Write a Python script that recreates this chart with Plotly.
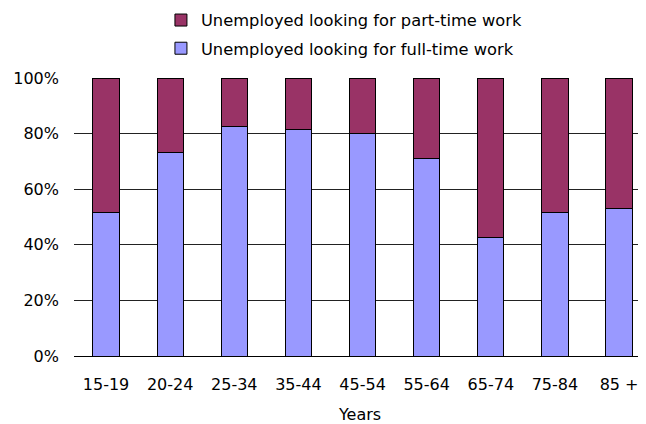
import plotly.graph_objects as go

categories = ["15-19", "20-24", "25-34", "35-44", "45-54", "55-64", "65-74", "75-84", "85 +"]
full_time = [0.517, 0.732, 0.826, 0.814, 0.802, 0.709, 0.426, 0.517, 0.529]
part_time = [1 - v for v in full_time]

font_family = "DejaVu Sans, Verdana, sans-serif"

fig = go.Figure()
fig.add_trace(go.Bar(
    x=categories, y=full_time, name="Unemployed looking for full-time work",
    legendgroup="full", legendrank=2,
    marker=dict(color="#9999FF", line=dict(color="#000000", width=1)),
))
fig.add_trace(go.Bar(
    x=categories, y=part_time, name="Unemployed looking for part-time work",
    legendgroup="part", legendrank=1,
    marker=dict(color="#993366", line=dict(color="#000000", width=1)),
))

fig.update_layout(
    barmode="stack",
    bargap=0.59,
    width=638, height=416,
    margin=dict(l=66, r=0, t=70, b=68, autoexpand=False),
    paper_bgcolor="white", plot_bgcolor="white",
    font=dict(family=font_family, size=16, color="#000000"),
    legend=dict(
        orientation="v", traceorder="grouped", tracegroupgap=4,
        x=0.152, xanchor="left", y=1.27, yanchor="top",
        font=dict(size=16.3),
        bgcolor="rgba(0,0,0,0)",
    ),
    showlegend=True,
)
fig.update_xaxes(
    range=[-0.5, 8.42],
    showline=False, showgrid=False,
    ticks="", ticklabelstandoff=17, tickangle=0,
    title=dict(text="Years", standoff=17, font=dict(size=16)),
)
fig.update_yaxes(
    range=[0, 1], tickvals=[0, 0.2, 0.4, 0.6, 0.8, 1.0], tickformat=".0%",
    showgrid=True, gridcolor="#222222", gridwidth=1,
    zeroline=True, zerolinecolor="#000000", zerolinewidth=1,
    showline=False, ticks="", ticklabelstandoff=14,
)

fig.write_html("out.html")
